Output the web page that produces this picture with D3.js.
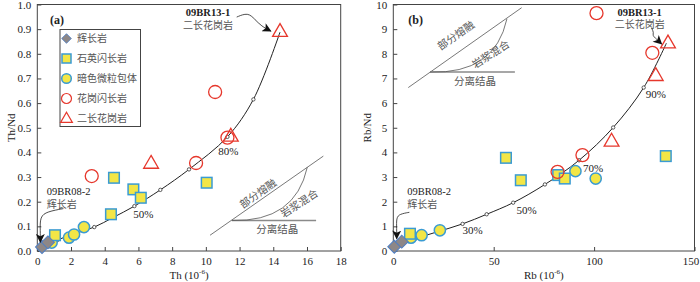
<!DOCTYPE html>
<html>
<head>
<meta charset="utf-8">
<script src="https://cdn.jsdelivr.net/npm/d3@7"></script>
<style>
body { margin: 0; background: #fff; }
svg text { font-family: "Liberation Serif", "Noto Sans CJK SC", serif; fill: #222; }
svg text.cn { font-family: "Noto Sans CJK SC", sans-serif; fill: #555; }
</style>
</head>
<body>
<svg id="chart" width="700" height="282"></svg>
<script>
// ---- panel (a): Th vs Th/Nd ----
var gabbroTh = [0.28, 0.63];
var gabbroThNd = [0.016, 0.035];
var qdTh = [1.05, 4.55, 5.7, 6.14, 4.37, 10.05];
var qdThNd = [0.064, 0.297, 0.25, 0.216, 0.149, 0.277];
var mmeTh = [0.85, 1.88, 2.18, 2.77];
var mmeThNd = [0.034, 0.054, 0.067, 0.097];
var gdTh = [3.23, 9.42, 10.55, 11.28];
var gdThNd = [0.304, 0.357, 0.645, 0.46];
var mgTh = [14.4, 11.48, 6.75];
var mgThNd = [0.888, 0.463, 0.353];
// mixing curve, 0..100 % in 10 % steps
var mixTh = [0.3, 1.2, 2.2, 3.38, 4.5, 5.76, 7.3, 9.0, 11.28, 12.82, 14.4];
var mixThNd = [0.02, 0.045, 0.07, 0.097, 0.136, 0.182, 0.248, 0.331, 0.463, 0.615, 0.888];
var xTicksA = [0, 2, 4, 6, 8, 10, 12, 14, 16, 18];
var yTicksA = [0, 0.1, 0.2, 0.3, 0.4, 0.5, 0.6, 0.7, 0.8, 0.9, 1.0];

// ---- panel (b): Rb vs Rb/Nd ----
var gabbroRb = [0.5, 4.2];
var gabbroRbNd = [0.17, 0.38];
var qdRb = [8.3, 56.1, 63.5, 82.1, 85.4, 135.7];
var qdRbNd = [0.7, 3.78, 2.87, 3.08, 2.94, 3.85];
var mmeRb = [8.8, 14.1, 23.2, 90.7, 100.8];
var mmeRbNd = [0.54, 0.64, 0.84, 3.24, 2.94];
var gdRb = [101.2, 129, 94.2, 81.8];
var gdRbNd = [9.65, 8.04, 3.89, 3.21];
var mgRb = [136.8, 130.7, 108.7];
var mgRbNd = [8.41, 7.09, 4.43];
var mixRb = [0.5, 11, 22, 34.5, 46.5, 59.7, 75.5, 92.5, 109.5, 124.7, 136];
var mixRbNd = [0.2, 0.5, 0.78, 1.1, 1.49, 1.96, 2.7, 3.68, 5.01, 6.63, 8.43];
var xTicksB = [0, 50, 100, 150];
var yTicksB = [0, 1, 2, 3, 4, 5, 6, 7, 8, 9, 10];

var legendNames = ["辉长岩", "石英闪长岩", "暗色微粒包体", "花岗闪长岩", "二长花岗岩"];

var yellow = "#f3e646", blue = "#3a9bd3", red = "#e6372c";

var svg = d3.select("#chart");
var defs = svg.append("defs");
defs.append("marker")
    .attr("id", "head")
    .attr("viewBox", "0 0 10 10")
    .attr("refX", 9).attr("refY", 5)
    .attr("markerWidth", 11).attr("markerHeight", 9)
    .attr("markerUnits", "userSpaceOnUse")
    .attr("orient", "auto")
    .append("path").attr("d", "M0,0 L10,5 L0,10 L2.5,5 Z").attr("fill", "#111");

function zip(a, b) { return a.map(function(d, i) { return [d, b[i]]; }); }

function panel(o) {
    var x = d3.scaleLinear().domain(o.xDomain).range([o.left, o.right]);
    var y = d3.scaleLinear().domain(o.yDomain).range([o.bottom, o.top]);
    var g = svg.append("g");

    g.append("g")
        .attr("transform", "translate(0," + o.bottom + ")")
        .call(d3.axisBottom(x).tickValues(o.xTicks).tickSize(-4).tickPadding(6).tickFormat(d3.format("d")))
        .call(function(a) {
            a.select(".domain").remove();
            a.selectAll("text").attr("font-size", 11).attr("fill", "#222");
            a.selectAll("line").attr("stroke", "#444");
            // keep the last label inside the page
            a.selectAll(".tick:last-of-type text").attr("dx", o.lastDx || 0);
        });
    g.append("g")
        .attr("transform", "translate(" + o.left + ",0)")
        .call(d3.axisLeft(y).tickValues(o.yTicks).tickSize(-4).tickPadding(6).tickFormat(d3.format(o.yFormat)))
        .call(function(a) { a.select(".domain").remove(); a.selectAll("text").attr("font-size", 11).attr("fill", "#222"); a.selectAll("line").attr("stroke", "#444"); });
    g.append("rect")
        .attr("x", o.left).attr("y", o.top)
        .attr("width", o.right - o.left).attr("height", o.bottom - o.top)
        .attr("fill", "none").attr("stroke", "#444").attr("stroke-width", 1);

    // axis titles
    var xt = g.append("text").attr("x", (o.left + o.right) / 2).attr("y", 278.5)
        .attr("text-anchor", "middle").attr("font-size", 11);
    xt.append("tspan").text(o.xName + " (10");
    xt.append("tspan").attr("font-size", 7).attr("dy", -4.5).text("-6");
    xt.append("tspan").attr("dy", 4.5).text(")");
    g.append("text")
        .attr("transform", "translate(" + (o.left - 22) + "," + ((o.top + o.bottom) / 2) + ") rotate(-90)")
        .attr("text-anchor", "middle").attr("font-size", 11).text(o.yName);
    g.append("text").attr("x", x(o.tag[0])).attr("y", y(o.tag[1]))
        .attr("font-size", 12).attr("font-weight", "bold").text(o.tagText);

    // schematic inset
    var s = o.scheme;
    g.append("line")
        .attr("x1", x(s.pm[0][0])).attr("y1", y(s.pm[0][1]))
        .attr("x2", x(s.pm[1][0])).attr("y2", y(s.pm[1][1]))
        .attr("stroke", "#555").attr("stroke-width", 0.8);
    g.append("line")
        .attr("x1", x(s.fc[0][0])).attr("y1", y(s.fc[0][1]))
        .attr("x2", x(s.fc[1][0])).attr("y2", y(s.fc[1][1]))
        .attr("stroke", "#8a8a8a").attr("stroke-width", 1.6);
    var p = d3.path();
    p.moveTo(x(s.fc[0][0]), y(s.fc[0][1]));
    p.quadraticCurveTo(x(s.mixCtrl[0]), y(s.mixCtrl[1]), x(s.mixEnd[0]), y(s.mixEnd[1]));
    g.append("path").attr("d", p.toString()).attr("fill", "none").attr("stroke", "#555").attr("stroke-width", 0.8);
    s.labels.forEach(function(l) {
        g.append("text").attr("class", "cn")
            .attr("transform", "translate(" + x(l.at[0]) + "," + y(l.at[1]) + ") rotate(" + l.rot + ")")
            .attr("text-anchor", "middle").attr("dy", "0.35em").attr("font-size", 10.5)
            .text(l.text);
    });

    // mixing curve
    var line = d3.line().x(function(d) { return x(d[0]); }).y(function(d) { return y(d[1]); })
        .curve(d3.curveCatmullRom);
    g.append("path").datum(o.mix).attr("d", line)
        .attr("fill", "none").attr("stroke", "#222").attr("stroke-width", 1);
    g.selectAll(".tick-dot").data(o.mix.slice(1, 10)).enter().append("circle")
        .attr("cx", function(d) { return x(d[0]); }).attr("cy", function(d) { return y(d[1]); })
        .attr("r", 1.7).attr("fill", "#fff").attr("stroke", "#333").attr("stroke-width", 0.8);
    o.pct.forEach(function(l) {
        g.append("text").attr("x", x(l.at[0])).attr("y", y(l.at[1]))
            .attr("text-anchor", "middle").attr("dy", "0.35em").attr("font-size", 11).text(l.text);
    });

    // samples
    g.selectAll(".mme").data(o.mme).enter().append("circle")
        .attr("cx", function(d) { return x(d[0]); }).attr("cy", function(d) { return y(d[1]); })
        .attr("r", 5.6).attr("fill", yellow).attr("stroke", blue).attr("stroke-width", 1.5);
    g.selectAll(".qd").data(o.qd).enter().append("rect")
        .attr("x", function(d) { return x(d[0]) - 5.3; }).attr("y", function(d) { return y(d[1]) - 5.3; })
        .attr("width", 10.6).attr("height", 10.6)
        .attr("fill", yellow).attr("stroke", blue).attr("stroke-width", 1.5);
    g.selectAll(".gab").data(o.gabbro).enter().append("rect")
        .attr("x", -4.6).attr("y", -4.6).attr("width", 9.2).attr("height", 9.2)
        .attr("transform", function(d) { return "translate(" + x(d[0]) + "," + y(d[1]) + ") rotate(45)"; })
        .attr("fill", "#8d8787").attr("stroke", "#4f7fc4").attr("stroke-width", 1);
    g.selectAll(".gd").data(o.gd).enter().append("circle")
        .attr("cx", function(d) { return x(d[0]); }).attr("cy", function(d) { return y(d[1]); })
        .attr("r", 6.5).attr("fill", "none").attr("stroke", red).attr("stroke-width", 1.3);
    g.selectAll(".mg").data(o.mg).enter().append("path")
        .attr("d", d3.symbol(d3.symbolTriangle, 95))
        .attr("transform", function(d) { return "translate(" + x(d[0]) + "," + y(d[1]) + ")"; })
        .attr("fill", "none").attr("stroke", red).attr("stroke-width", 1.3);

    // sample annotations
    o.notes.forEach(function(n) {
        g.append("text").attr("x", x(n.at[0])).attr("y", y(n.at[1]))
            .attr("text-anchor", n.anchor).attr("dy", "0.3em").attr("font-size", 10.5)
            .attr("font-weight", n.bold ? "bold" : "normal").text(n.id);
        g.append("text").attr("class", "cn").attr("x", x(n.at[0])).attr("y", y(n.at[1]) + 12.5)
            .attr("text-anchor", n.anchor).attr("dy", "0.35em").attr("font-size", 10).text(n.name);
        var arrow = d3.line().x(function(d) { return x(d[0]); }).y(function(d) { return y(d[1]); })
            .curve(d3.curveBasis);
        g.append("path").datum(n.arrow).attr("d", arrow)
            .attr("fill", "none").attr("stroke", "#222").attr("stroke-width", 0.8)
            .attr("marker-end", "url(#head)");
    });
    return { x: x, y: y, g: g };
}

var pa = panel({
    left: 37.3, right: 340.7, top: 4.5, bottom: 251,
    xDomain: [0, 18], yDomain: [0, 1],
    xTicks: xTicksA, yTicks: yTicksA, yFormat: ".1f",
    xName: "Th", yName: "Th/Nd", tag: [0.75, 0.92], tagText: "(a)",
    gabbro: zip(gabbroTh, gabbroThNd), qd: zip(qdTh, qdThNd), mme: zip(mmeTh, mmeThNd),
    gd: zip(gdTh, gdThNd), mg: zip(mgTh, mgThNd), mix: zip(mixTh, mixThNd),
    pct: [{ at: [6.29, 0.151], text: "50%" }, { at: [11.34, 0.407], text: "80%" }],
    scheme: {
        pm: [[10.25, 0.064], [16.97, 0.385]], fc: [[11.54, 0.124], [16.54, 0.124]],
        mixCtrl: [15.3, 0.117], mixEnd: [16.02, 0.34],
        labels: [
            { at: [13.1, 0.233], rot: -35, text: "部分熔融" },
            { at: [15.55, 0.193], rot: -33, text: "岩浆混合" },
            { at: [14.24, 0.086], rot: 0, text: "分离结晶" }
        ]
    },
    notes: [
        { id: "09BR13-1", name: "二长花岗岩", at: [10.13, 0.966], anchor: "middle", bold: true,
          arrow: [[11.83, 0.949], [12.5, 0.968], [12.9, 0.94], [13.3, 0.912], [13.85, 0.892]] },
        { id: "09BR08-2", name: "辉长岩", at: [0.56, 0.238], anchor: "start", bold: false,
          arrow: [[1.55, 0.172], [0.6, 0.16], [0.15, 0.14], [0.18, 0.08], [0.18, 0.036]] }
    ]
});

var pb = panel({
    left: 393.3, right: 694.5, top: 4.5, bottom: 251, lastDx: -4,
    xDomain: [0, 150], yDomain: [0, 10],
    xTicks: xTicksB, yTicks: yTicksB, yFormat: "d",
    xName: "Rb", yName: "Rb/Nd", tag: [7.5, 9.2], tagText: "(b)",
    gabbro: zip(gabbroRb, gabbroRbNd), qd: zip(qdRb, qdRbNd), mme: zip(mmeRb, mmeRbNd),
    gd: zip(gdRb, gdRbNd), mg: zip(mgRb, mgRbNd), mix: zip(mixRb, mixRbNd),
    pct: [{ at: [39.5, 0.84], text: "30%" }, { at: [66.4, 1.66], text: "50%" },
          { at: [99.5, 3.37], text: "70%" }, { at: [130.7, 6.38], text: "90%" }],
    scheme: {
        pm: [[7.46, 6.63], [63.9, 9.87]], fc: [[18.26, 7.26], [60.55, 7.26]],
        mixCtrl: [50.6, 7.17], mixEnd: [56.6, 9.42],
        labels: [
            { at: [31.2, 8.74], rot: -35, text: "部分熔融" },
            { at: [48.6, 7.98], rot: -33, text: "岩浆混合" },
            { at: [40.7, 6.9], rot: 0, text: "分离结晶" }
        ]
    },
    notes: [
        { id: "09BR13-1", name: "二长花岗岩", at: [122.7, 9.68], anchor: "middle", bold: true,
          arrow: [[128.6, 9.05], [129.8, 8.85], [129.0, 8.75], [131.0, 8.6], [133.6, 8.4]] },
        { id: "09BR08-2", name: "辉长岩", at: [6.97, 2.38], anchor: "start", bold: false,
          arrow: [[8.0, 1.57], [3.2, 1.5], [1.5, 1.35], [1.7, 0.9], [1.7, 0.5]] }
    ]
});

// legend in panel (a)
var lg = pa.g.append("g");
lg.append("rect").attr("x", 60).attr("y", 29.5).attr("width", 80.5).attr("height", 97)
    .attr("fill", "#fff").attr("stroke", "#444").attr("stroke-width", 1);
var rowY = d3.scalePoint().domain(legendNames).range([38.5, 118.5]);
legendNames.forEach(function(name, i) {
    var cy = rowY(name), cx = 66.5;
    if (i === 0) {
        lg.append("rect").attr("x", -3.4).attr("y", -3.4).attr("width", 6.8).attr("height", 6.8)
            .attr("transform", "translate(" + cx + "," + cy + ") rotate(45)")
            .attr("fill", "#8d8787").attr("stroke", "#4f7fc4").attr("stroke-width", 0.8);
    } else if (i === 1) {
        lg.append("rect").attr("x", cx - 4.5).attr("y", cy - 4.5).attr("width", 9).attr("height", 9)
            .attr("fill", yellow).attr("stroke", blue).attr("stroke-width", 1.5);
    } else if (i === 2) {
        lg.append("circle").attr("cx", cx).attr("cy", cy).attr("r", 4.8)
            .attr("fill", yellow).attr("stroke", blue).attr("stroke-width", 1.5);
    } else if (i === 3) {
        lg.append("circle").attr("cx", cx).attr("cy", cy).attr("r", 5)
            .attr("fill", "none").attr("stroke", red).attr("stroke-width", 1.2);
    } else {
        lg.append("path").attr("d", d3.symbol(d3.symbolTriangle, 60))
            .attr("transform", "translate(" + cx + "," + (cy + 0.5) + ")")
            .attr("fill", "none").attr("stroke", red).attr("stroke-width", 1.2);
    }
    lg.append("text").attr("class", "cn").attr("x", 77).attr("y", cy).attr("dy", "0.35em")
        .attr("font-size", 10).text(name);
});
</script>
</body>
</html>
